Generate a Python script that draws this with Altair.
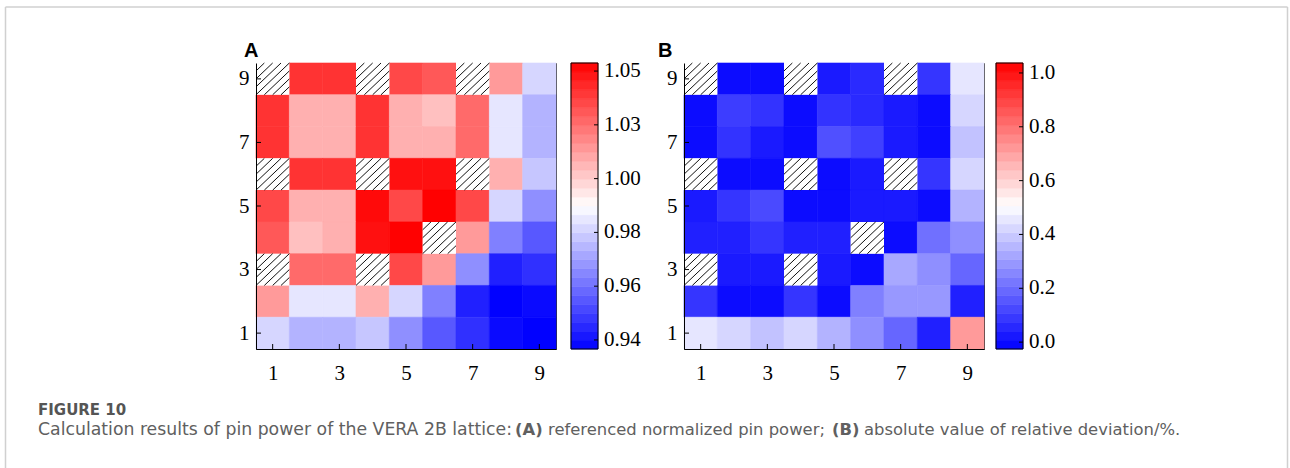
import altair as alt
import numpy as np
import pandas as pd

# ---------------- data ----------------
cols = [1, 2, 3, 4, 5, 6, 7, 8, 9]
rows = [9, 8, 7, 6, 5, 4, 3, 2, 1]          # top row first
N = None                                     # guide tube (hatched cell)

power_A = [
    [N,      1.0416, 1.0416, N,      1.0368, 1.0331, N,      1.0180, 0.9854],
    [1.0416, 1.0129, 1.0129, 1.0416, 1.0129, 1.0093, 1.0290, 0.9891, 0.9774],
    [1.0416, 1.0129, 1.0129, 1.0416, 1.0129, 1.0129, 1.0290, 0.9891, 0.9774],
    [N,      1.0416, 1.0416, N,      1.0497, 1.0497, N,      1.0129, 0.9817],
    [1.0368, 1.0129, 1.0129, 1.0510, 1.0368, 1.0530, 1.0368, 0.9854, 0.9691],
    [1.0331, 1.0093, 1.0129, 1.0497, 1.0530, N,      1.0180, 0.9657, 0.9565],
    [N,      1.0290, 1.0290, N,      1.0368, 1.0180, 0.9691, 0.9437, 0.9473],
    [1.0180, 0.9891, 0.9891, 1.0129, 0.9854, 0.9657, 0.9437, 0.9365, 0.9386],
    [0.9854, 0.9774, 0.9774, 0.9817, 0.9691, 0.9565, 0.9473, 0.9386, 0.9365],
]

deviation_B = [
    [N,     0.000, 0.000, N,     0.029, 0.062, N,     0.085, 0.454],
    [0.000, 0.102, 0.081, 0.000, 0.081, 0.062, 0.029, 0.000, 0.421],
    [0.000, 0.081, 0.029, 0.000, 0.141, 0.107, 0.029, 0.000, 0.378],
    [N,     0.000, 0.000, N,     0.000, 0.029, N,     0.085, 0.421],
    [0.029, 0.085, 0.129, 0.000, 0.000, 0.029, 0.029, 0.000, 0.347],
    [0.041, 0.041, 0.085, 0.041, 0.041, N,     0.000, 0.208, 0.272],
    [N,     0.029, 0.029, N,     0.029, 0.000, 0.324, 0.272, 0.187],
    [0.085, 0.000, 0.000, 0.085, 0.000, 0.241, 0.291, 0.291, 0.041],
    [0.454, 0.421, 0.378, 0.421, 0.347, 0.272, 0.187, 0.041, 0.716],
]

axis_ticks = [1, 3, 5, 7, 9]

cbar_A_domain = [0.9363, 0.9948, 1.0533]
cbar_A_ticks = [0.94, 0.962, 0.984, 1.006, 1.028, 1.05]
cbar_A_labels = ["0.94", "0.96", "0.98", "1.00", "1.03", "1.05"]

cbar_B_domain = [-0.0255, 0.506, 1.037]
cbar_B_ticks = [0.0, 0.2, 0.4, 0.6, 0.8, 1.0]
cbar_B_labels = ["0.0", "0.2", "0.4", "0.6", "0.8", "1.0"]

caption_head = "FIGURE 10"
caption_parts = [
    ("Calculation results of pin power of the VERA 2B lattice:", "normal"),
    ("(A)", "bold"),
    ("referenced normalized pin power;", "normal"),
    ("(B)", "bold"),
    ("absolute value of relative deviation/%.", "normal"),
]

# ---------------- styling ----------------
W, H = 300, 286
CBW = 27
NLEV = 32
SERIF = "Liberation Serif"
HATCH_STEP = 0.25
CMAP = ["#0000ff", "#ffffff", "#ff0000"]
COL_GAP = 12


def cells_df(matrix):
    recs = []
    for r, rowvals in zip(rows, matrix):
        for c, v in zip(cols, rowvals):
            recs.append(dict(col=c, row=r, value=v, x0=c - 0.5, x1=c + 0.5,
                             y0=r - 0.5, y1=r + 0.5, tube=(v is None)))
    return pd.DataFrame(recs)


def hatch_df(df):
    recs = []
    offs = np.arange(-1 + HATCH_STEP, 1 - 1e-9, HATCH_STEP)
    for _, t in df[df.tube].iterrows():
        for d in offs:
            if d >= 0:
                a, b = (t.x0 + d, t.y0), (t.x1, t.y1 - d)
            else:
                a, b = (t.x0, t.y0 - d), (t.x1 + d, t.y1)
            recs.append(dict(hx0=a[0], hy0=a[1], hx1=b[0], hy1=b[1]))
    return pd.DataFrame(recs)


def cscale(domain):
    return alt.Scale(domain=domain, range=CMAP, interpolate="rgb")


def panel(matrix, domain, letter, title_dx):
    df = cells_df(matrix)
    xs = alt.Scale(domain=[0.5, 9.5], nice=False, zero=False)
    ys = alt.Scale(domain=[0.5, 9.5], nice=False, zero=False)
    common = dict(values=axis_ticks, ticks=False, grid=False, title=None,
                  labelFont=SERIF, labelFontSize=21, labelColor="black",
                  domainColor="black", domainWidth=1, labelFlush=False,
                  labelOverlap=False, zindex=1)
    xaxis = alt.Axis(labelPadding=13, labelAngle=0, **common)
    yaxis = alt.Axis(labelPadding=7, **common)
    heat = alt.Chart(df[~df.tube]).mark_rect(strokeWidth=0.6).encode(
        x=alt.X("x0:Q", scale=xs, axis=xaxis), x2="x1",
        y=alt.Y("y0:Q", scale=ys, axis=yaxis), y2="y1",
        color=alt.Color("value:Q", scale=cscale(domain), legend=None),
        stroke=alt.Stroke("value:Q", scale=cscale(domain), legend=None),
    )
    tubes = alt.Chart(df[df.tube]).mark_rect(color="white").encode(
        x="x0:Q", x2="x1", y="y0:Q", y2="y1")
    hatch = alt.Chart(hatch_df(df)).mark_rule(color="#111", strokeWidth=1).encode(
        x="hx0:Q", y="hy0:Q", x2="hx1", y2="hy1")
    tdf = pd.DataFrame({"t": axis_ticks})
    xt = alt.Chart(tdf).mark_rule(color="black").encode(
        x="t:Q", y=alt.value(H), y2=alt.value(H - 5))
    yt = alt.Chart(tdf).mark_rule(color="black").encode(
        y="t:Q", x=alt.value(0), x2=alt.value(5))
    return alt.layer(heat, tubes, hatch, xt, yt).properties(
        width=W, height=H,
        title=alt.TitleParams(letter, anchor="start", frame="group",
                              font="Liberation Sans", fontSize=20,
                              fontWeight="bold", color="black",
                              dx=title_dx, offset=2),
        view=alt.ViewBackground(stroke="#333", strokeWidth=1),
    )


def colorbar(domain, ticks, labels, x0, view_w):
    lo, mid, hi = domain
    edges = np.linspace(lo, hi, NLEV + 1)
    bands = pd.DataFrame({"b0": edges[:-1], "b1": edges[1:],
                          "v": (edges[:-1] + edges[1:]) / 2})
    ys = alt.Scale(domain=[lo, hi], nice=False, zero=False)
    rect = alt.Chart(bands).mark_rect(strokeWidth=0.6).encode(
        y=alt.Y("b0:Q", scale=ys, axis=None), y2="b1",
        x=alt.value(x0), x2=alt.value(x0 + CBW),
        color=alt.Color("v:Q", scale=cscale(domain), legend=None),
        stroke=alt.Stroke("v:Q", scale=cscale(domain), legend=None),
    )
    frame = alt.Chart(bands.head(1)).mark_rect(
        filled=False, stroke="black", strokeWidth=1).encode(
        x=alt.value(x0), x2=alt.value(x0 + CBW),
        y=alt.value(0), y2=alt.value(H))
    tdf = pd.DataFrame({"t": ticks, "label": labels})
    tk = alt.Chart(tdf).mark_rule(color="black").encode(
        y="t:Q", x=alt.value(x0 + CBW - 4), x2=alt.value(x0 + CBW))
    tx = alt.Chart(tdf).mark_text(align="left", baseline="middle", font=SERIF,
                                  fontSize=21, color="black").encode(
        y="t:Q", x=alt.value(x0 + CBW + 6), text="label:N")
    return alt.layer(rect, frame, tk, tx).properties(
        width=view_w, height=H, view=alt.ViewBackground(stroke="transparent"))


pA = panel(power_A, cbar_A_domain, "A", -12)
cA = colorbar(cbar_A_domain, cbar_A_ticks, cbar_A_labels, 3, 104)
pB = panel(deviation_B, cbar_B_domain, "B", -26)
cB = colorbar(cbar_B_domain, cbar_B_ticks, cbar_B_labels, 0, CBW)

# ---------------- caption + figure frame ----------------
CAP_H = 100
one = pd.DataFrame({"k": [0]})
base = alt.Chart(one)
layers = [
    base.mark_text(text=caption_head, font="DejaVu Sans", fontSize=15,
                   fontWeight="bold", color="#555555", align="left",
                   baseline="middle").encode(x=alt.value(-218), y=alt.value(41))
]
part_x = [-218, 259, 292, 576, 608]
part_size = [17.3, 16.4, 16.4, 16.4, 16.4]
for (txt, wt), px, fs in zip(caption_parts, part_x, part_size):
    layers.append(base.mark_text(text=txt, font="DejaVu Sans", fontSize=fs,
                                 fontWeight=wt, color="#606060", align="left",
                                 baseline="middle").encode(
        x=alt.value(px), y=alt.value(61)))
FRAME = "#d0d0d0"
layers += [
    base.mark_rule(color=FRAME, strokeWidth=1.5).encode(
        x=alt.value(-250.5), y=alt.value(-362), y2=alt.value(CAP_H)),
    base.mark_rule(color=FRAME, strokeWidth=1.5).encode(
        x=alt.value(1031.5), y=alt.value(-362), y2=alt.value(CAP_H)),
    base.mark_rule(color=FRAME, strokeWidth=1.5).encode(
        x=alt.value(-250.5), x2=alt.value(1031.5), y=alt.value(-362)),
]
caption = alt.layer(*layers).properties(
    width=W, height=CAP_H, view=alt.ViewBackground(stroke="transparent"))

chart = alt.concat(
    pA, cA, pB, cB, caption,
    columns=4, spacing={"row": 20, "column": COL_GAP},
    bounds="flush", align="each",
).resolve_scale(color="independent", stroke="independent").properties(
    padding={"left": 4, "top": 5, "right": 0, "bottom": 0},
    background="white",
).configure_view(stroke="transparent")

chart.save("out.html", embed_options={"renderer": "svg", "actions": False})
